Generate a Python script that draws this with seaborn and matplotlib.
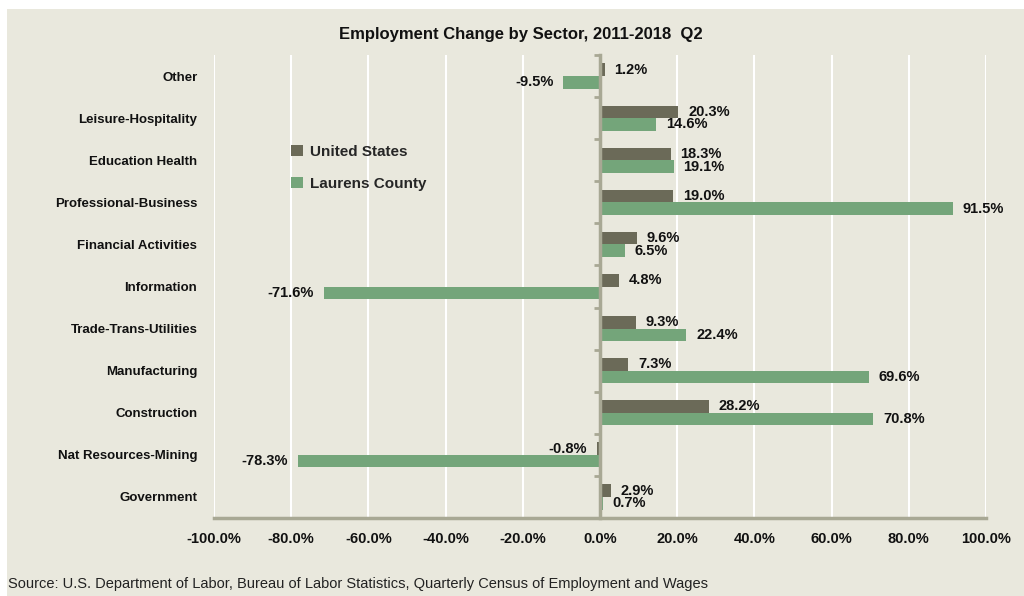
import matplotlib
matplotlib.use("Agg")
import matplotlib.pyplot as plt
import matplotlib.ticker as mticker
import seaborn as sns
import pandas as pd

# Data
sectors = ["Other", "Leisure-Hospitality", "Education Health", "Professional-Business",
           "Financial Activities", "Information", "Trade-Trans-Utilities", "Manufacturing",
           "Construction", "Nat Resources-Mining", "Government"]
us_change = [1.2, 20.3, 18.3, 19.0, 9.6, 4.8, 9.3, 7.3, 28.2, -0.8, 2.9]
laurens_change = [-9.5, 14.6, 19.1, 91.5, 6.5, -71.6, 22.4, 69.6, 70.8, -78.3, 0.7]
series = ["United States", "Laurens County"]

df = pd.DataFrame({
    "Sector": sectors * 2,
    "Change": us_change + laurens_change,
    "Area": [series[0]] * len(sectors) + [series[1]] * len(sectors),
})

BG = "#E9E8DD"
AXIS = "#A8A894"
US_COLOR = "#6B6A58"
LC_COLOR = "#74A57A"

sns.set_theme(style="white")
plt.rcParams["font.family"] = ["Liberation Sans", "DejaVu Sans"]

fig = plt.figure(figsize=(10.24, 5.96), dpi=100, facecolor="white")
# chart area background (white edge at top/left like the source)
fig.patches.append(plt.Rectangle((7 / 1024, 0), 1, 1 - 9 / 596, transform=fig.transFigure,
                                 facecolor=BG, edgecolor="none", zorder=-10))
ax = fig.add_axes([214 / 1024, 1 - 518 / 596, 772 / 1024, 463 / 596])
ax.set_facecolor(BG)

sns.barplot(data=df, y="Sector", x="Change", hue="Area", order=sectors, hue_order=series,
            palette=[US_COLOR, LC_COLOR], width=0.6, orient="h", ax=ax,
            saturation=1, edgecolor="none", zorder=3)

for cont in ax.containers:
    ax.bar_label(cont, fmt="{:.1f}%", padding=7, fontsize=10.5, fontweight="bold", color="#111111")

ax.set_xlim(-100, 100)
ax.set_ylim(len(sectors) - 0.5, -0.5)
ax.xaxis.set_major_locator(mticker.MultipleLocator(20))
ax.xaxis.set_major_formatter(mticker.FuncFormatter(lambda v, p: f"{v:.1f}%"))
ax.grid(axis="x", color="white", lw=1.5, zorder=0)
ax.set_axisbelow(True)
ax.set_xlabel("")
ax.set_ylabel("")

for s in ["top", "right", "left"]:
    ax.spines[s].set_visible(False)
ax.spines["bottom"].set_color(AXIS)
ax.spines["bottom"].set_linewidth(2.5)
ax.tick_params(axis="x", direction="out", length=4, width=2, color=AXIS, pad=6,
               labelsize=10.5, labelcolor="#111111")
ax.tick_params(axis="y", length=0, pad=12, labelsize=9.5, labelcolor="#111111")
for lbl in ax.get_xticklabels() + ax.get_yticklabels():
    lbl.set_fontweight("bold")

# vertical axis at zero with ticks between categories
ax2 = ax.twinx()
ax2.set_ylim(ax.get_ylim())
for s in ["top", "right", "bottom"]:
    ax2.spines[s].set_visible(False)
ax2.spines["left"].set_position(("data", 0))
ax2.spines["left"].set_color(AXIS)
ax2.spines["left"].set_linewidth(2.5)
ax2.yaxis.set_ticks_position("left")
ax2.set_yticks([i - 0.5 for i in range(len(sectors) + 1)])
ax2.tick_params(axis="y", direction="out", length=4, width=2, color=AXIS, labelleft=False)

leg = ax.legend(loc="center left", bbox_to_anchor=(0.082, 0.756), frameon=False,
                handlelength=0.75, handleheight=0.75, labelspacing=1.2, handletextpad=0.5,
                prop={"weight": "bold", "size": 11})

fig.text(521 / 1024, 1 - 34 / 596, "Employment Change by Sector, 2011-2018  Q2",
         ha="center", va="center", fontsize=12, fontweight="bold", color="#111111")
fig.text(8 / 1024, 1 - 584 / 596,
         "Source: U.S. Department of Labor, Bureau of Labor Statistics, Quarterly Census of Employment and Wages",
         ha="left", va="center", fontsize=10.5, color="#222222")

fig.savefig("out.png", dpi=100, facecolor="white")
